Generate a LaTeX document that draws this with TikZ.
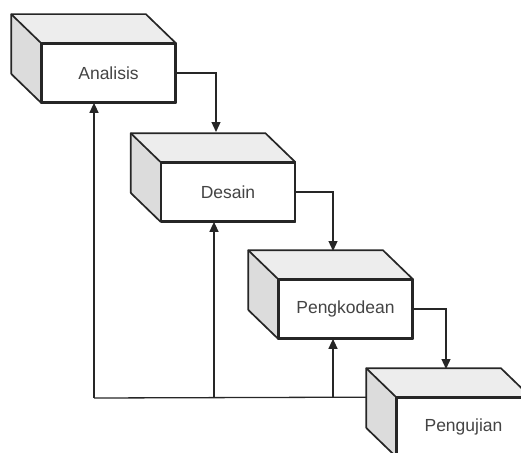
\documentclass[tikz,border=0pt]{standalone}
\usepackage{fontspec}
\setmainfont{Liberation Sans}
\usetikzlibrary{calc,arrows.meta}
\definecolor{edge}{HTML}{262626}
\definecolor{topc}{HTML}{EDEDED}
\definecolor{sidec}{HTML}{DCDCDC}
\definecolor{txt}{HTML}{444444}
\tikzset{
  front/.style={draw=edge, line width=1.7pt, fill=white, minimum width=133pt, minimum height=58pt, inner sep=0pt, text=txt, font=\fontsize{17.5}{20}\selectfont},
  face/.style={draw=edge, line width=1.7pt, line join=round},
  conn/.style={draw=edge, line width=1.3pt},
  arr/.style={conn, -{Triangle[length=10pt,width=9pt]}}
}
\newcommand{\boxthree}[1]{%
  \fill[topc] ($(#1.north west)+(-30,-29)$) -- ($(#1.north east)+(-30,-29)$) -- (#1.north east) -- (#1.north west) -- cycle;
  \fill[sidec] ($(#1.north west)+(-30,-29)$) -- (#1.north west) -- (#1.south west) -- ($(#1.south west)+(-30,-29)$) -- cycle;
  \draw[face] ($(#1.south west)+(-30,-29)$) -- ($(#1.north west)+(-30,-29)$) -- ($(#1.north east)+(-30,-29)$) -- (#1.north east);
  \draw[face] ($(#1.north west)+(-30,-29)$) -- (#1.north west);
  \draw[face] ($(#1.south west)+(-30,-29)$) -- (#1.south west);
  \draw[face] (#1.north west) rectangle (#1.south east);
}
\begin{document}
\begin{tikzpicture}[x=1pt,y=-1pt]
\useasboundingbox (0,0) rectangle (521,452);
\begin{scope}
\clip (0,0) rectangle (521,452);
\node[front] (a) at (108.5,73) {Analisis};
\node[front] (b) at (228,192) {Desain};
\node[front] (c) at (345.5,309) {Pengkodean};
\node[front] (d) at (463.5,427) {Pengujian};
\coordinate (fb) at ($(d.north west)+(-29,0)$);
\coordinate (fa) at (94,398);
\coordinate (fbb) at (214,398);
\coordinate (fc) at (333,398);
\draw[conn] (fb) -- (fa);
\draw[arr] (fa) -- (a.south -| fa);
\draw[arr] (fbb) -- (b.south -| fbb);
\draw[arr] (fc) -- (c.south -| fc);
\boxthree{a}
\boxthree{b}
\boxthree{c}
\boxthree{d}
\coordinate (d1) at (216,132);
\coordinate (d2) at (333,251);
\coordinate (d3) at (446,369);
\draw[arr] (a.east) -| (d1);
\draw[arr] (b.east) -| (d2);
\draw[arr] (c.east) -| (d3);
\end{scope}
\end{tikzpicture}
\end{document}
